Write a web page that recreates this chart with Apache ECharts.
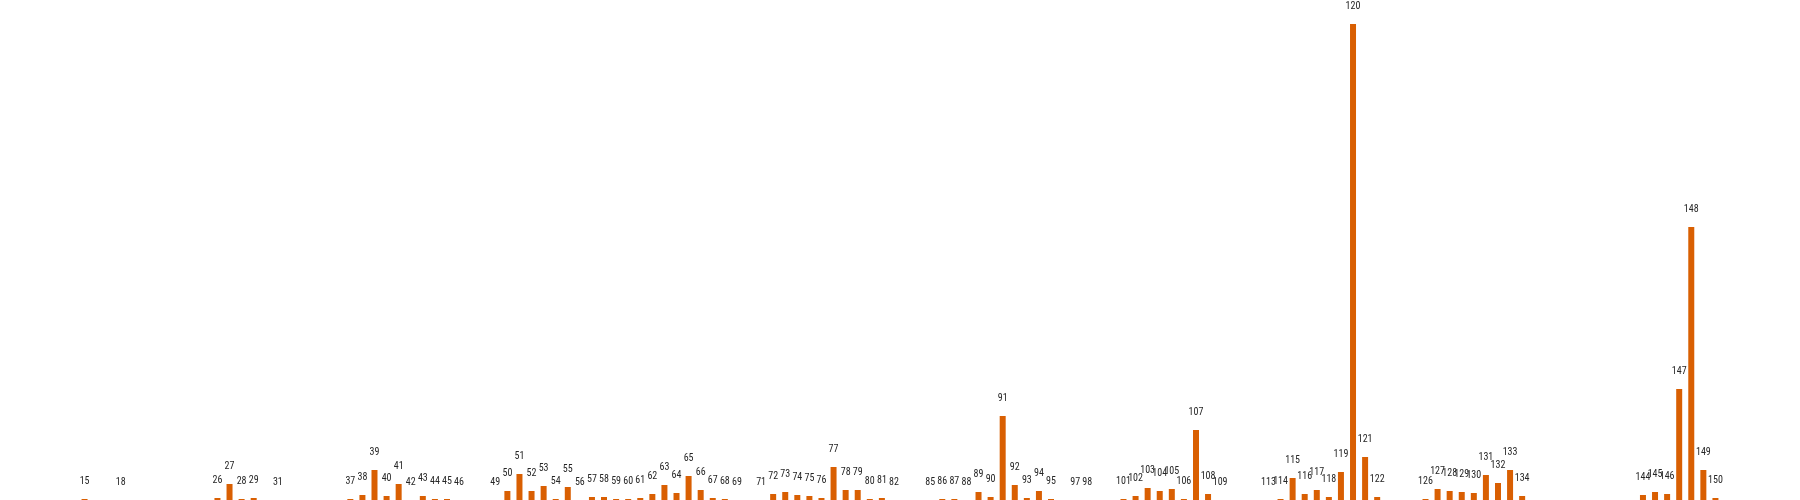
<!DOCTYPE html>
<html>
<head>
<meta charset="utf-8">
<script src="https://cdn.jsdelivr.net/npm/echarts@6/dist/echarts.min.js"></script>
<style>html,body{margin:0;padding:0;background:#fff;}#chart{width:1800px;height:500px;}</style>
</head>
<body>
<div id="chart"></div>
<script>
var categories = [15, 18, 26, 27, 28, 29, 31, 37, 38, 39, 40, 41, 42, 43, 44, 45, 46,
  49, 50, 51, 52, 53, 54, 55, 56, 57, 58, 59, 60, 61, 62, 63, 64, 65, 66, 67, 68, 69,
  71, 72, 73, 74, 75, 76, 77, 78, 79, 80, 81, 82, 85, 86, 87, 88, 89, 90, 91, 92, 93,
  94, 95, 97, 98, 101, 102, 103, 104, 105, 106, 107, 108, 109, 113, 114, 115, 116, 117,
  118, 119, 120, 121, 122, 126, 127, 128, 129, 130, 131, 132, 133, 134, 144, 145, 146,
  147, 148, 149, 150];
var values = [1, 0, 2, 16, 1, 2, 0, 1, 5, 30, 4, 16, 0, 4, 1, 1, 0,
  0, 9, 26, 9, 14, 1, 13, 0, 3, 3, 1, 1, 2, 6, 15, 7, 24, 10, 2, 1, 0,
  0, 6, 8, 5, 4, 2, 33, 10, 10, 1, 2, 0, 0, 1, 1, 0, 8, 3, 84, 15, 2,
  9, 1, 0, 0, 1, 4, 12, 9, 11, 1, 70, 6, 0, 0, 1, 22, 6, 10,
  3, 28, 476, 43, 3, 1, 11, 9, 8, 7, 25, 17, 30, 4, 5, 8, 6,
  111, 273, 30, 2];

var data = categories.map(function (c, i) { return [c, values[i]]; });

var chart = echarts.init(document.getElementById('chart'), null, {renderer: 'canvas'});
chart.setOption({
  animation: false,
  backgroundColor: '#ffffff',
  grid: {left: 0, right: 0, top: 0, bottom: 0, containLabel: false},
  xAxis: {
    type: 'value', min: 8, max: 157, show: false
  },
  yAxis: {
    type: 'value', min: 0, max: 500, show: false
  },
  series: [{
    type: 'bar',
    data: data,
    barWidth: 6,
    itemStyle: {color: '#d95f02'},
    label: {
      show: true,
      position: 'top',
      distance: 13,
      color: '#262626',
      fontSize: 10,
      fontFamily: '"Roboto Condensed", "DejaVu Sans Condensed", sans-serif',
      formatter: function (p) { return String(p.value[0]); }
    }
  }]
});
</script>
</body>
</html>
